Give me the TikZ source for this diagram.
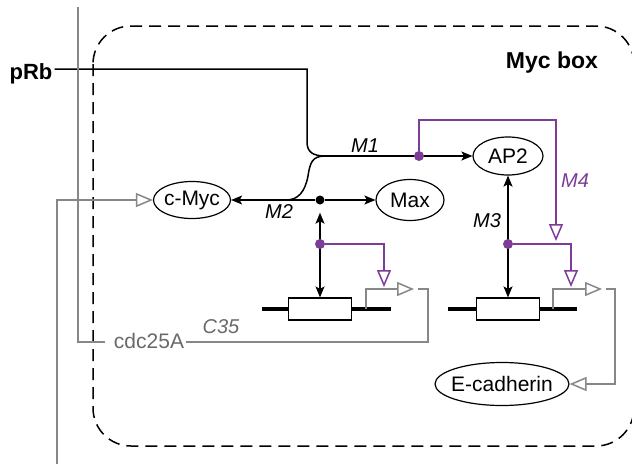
\documentclass[tikz,border=0pt]{standalone}
\usepackage{fontspec}
\setmainfont{Liberation Sans}
\usetikzlibrary{shapes.geometric,arrows.meta}
\definecolor{vio}{RGB}{125,60,152}
\definecolor{gline}{RGB}{135,135,135}
\definecolor{gtext}{RGB}{105,105,105}
\newcommand{\zw}[1]{\makebox[0pt]{#1}}
\begin{document}
\begin{tikzpicture}[x=1pt,y=-1pt,
  lab/.style={font=\fontsize{21}{24}\selectfont},
  mlab/.style={font=\fontsize{20}{24}\selectfont\itshape, anchor=base, inner sep=0pt},
  ell/.style={draw, ellipse, inner sep=0pt, line width=1.2pt, lab},
  genebox/.style={draw, fill=white, minimum width=63pt, minimum height=22pt, inner sep=0pt, line width=1.2pt},
  blk/.style={line width=1.5pt, black},
  pur/.style={line width=1.5pt, vio},
  gry/.style={line width=1.5pt, gline},
  thk/.style={line width=4pt, black},
  hd/.style={-{Stealth[length=11pt,width=9pt,inset=2.5pt]}},
  dhd/.style={{Stealth[length=11pt,width=9pt,inset=2.5pt]}-{Stealth[length=11pt,width=9pt,inset=2.5pt]}},
  ohd/.style={-{Triangle[open,length=17pt,width=14pt]}},
  bdot/.style={circle, fill=black, inner sep=0pt, minimum size=9pt},
  pdot/.style={circle, fill=vio, inner sep=0pt, minimum size=10pt}
]
\useasboundingbox (0,0) rectangle (632,464);

% Myc box
\draw[line width=1.5pt, dash pattern=on 12pt off 7pt, rounded corners=38pt] (93,26) rectangle (634,446);
\node[font=\fontsize{23}{26}\selectfont\bfseries, anchor=base, inner sep=0pt] (mycbox) at (552,68) {Myc box};

% nodes
\node[font=\fontsize{22}{24}\selectfont\bfseries, anchor=base, inner sep=2pt] (prb) at (31,79) {pRb};
\node[ell, minimum width=77pt, minimum height=37pt] (cmyc) at (192,200) {\zw{c-Myc}};
\node[ell, minimum width=68pt, minimum height=41pt] (max) at (410,200) {\zw{Max}};
\node[ell, minimum width=70pt, minimum height=38pt] (ap2) at (508,156) {\zw{AP2}};
\node[ell, minimum width=134pt, minimum height=43pt] (ecad) at (502,384) {\zw{E-cadherin}};
\node[genebox] (g1) at (320,309) {};
\node[genebox] (g2) at (508,309) {};
\node[lab, text=gtext, anchor=base, inner sep=0pt] (cdc) at (149,348) {cdc25A};
\node[bdot] (m2dot) at (320,200) {};

\coordinate (j1) at (325,156);
\coordinate (prbline) at (57,69);
\coordinate (fb) at (428,342);
\coordinate (topend) at (78,7);
\coordinate (botend) at (57,464);

% labels
\node[mlab] (lm1) at (365,152) {M1};
\node[mlab] (lm2) at (279,218) {M2};
\node[mlab] (lm3) at (487,227) {M3};
\node[mlab, text=vio] (lm4) at (575,187) {M4};
\node[mlab, text=gtext] (lc35) at (221,333) {C35};

% gene lines
\draw[thk] (262,309) -- (g1.west);
\draw[thk] (g1.east) -- (391,309);
\draw[thk] (448,309) -- (g2.west);
\draw[thk] (g2.east) -- (577,309);

% pRb and the brace
\draw[blk] (prb.east |- prbline) -- (307,69) -- (307,142) .. controls (307,152) and (313,156) .. (j1);
\draw[blk] (j1) .. controls (312,156) and (310,163) .. (308,176) .. controls (305,192) and (298,200) .. (286,200);

% M1
\draw[blk, hd] (j1) -- (ap2);
% M2
\draw[blk, hd] (m2dot) -- (cmyc);
\draw[blk, hd] (m2dot) -- (max);
\draw[blk, dhd, shorten <=8pt] (m2dot) -- (g1.north);
% M3
\draw[blk, dhd] (ap2) -- (g2.north);

% purple dots and lines
\node[pdot] (m1dot) at (419,156) {};
\node[pdot] (p1dot) at (320,244) {};
\node[pdot] (p2dot) at (508,244) {};
\draw[pur, ohd] (m1dot) -- (419,120) -- (556,120) -- (556,241);
\draw[pur, ohd] (p1dot) -- (384,244) -- (384,287);
\draw[pur, ohd] (p2dot) -- (571,244) -- (571,287);

% gray promoters and feedback
\draw[gry, ohd] (366,309) -- (366,289) -- (414,289);
\draw[gry, ohd] (553,309) -- (553,289) -- (602,289);
\draw[gry] (418,289) -- (fb |- 0,289) -- (fb) -- ([xshift=2pt]cdc.east |- fb);
\draw[gry] ([xshift=-9pt]cdc.west |- fb) -- (topend |- fb) -- (topend);
\draw[gry, ohd] (606,289) -- (615,289) -- (615,384) -- (ecad);
\draw[gry, ohd] (botend) -- (57,200) -- (cmyc);
\end{tikzpicture}
\end{document}
